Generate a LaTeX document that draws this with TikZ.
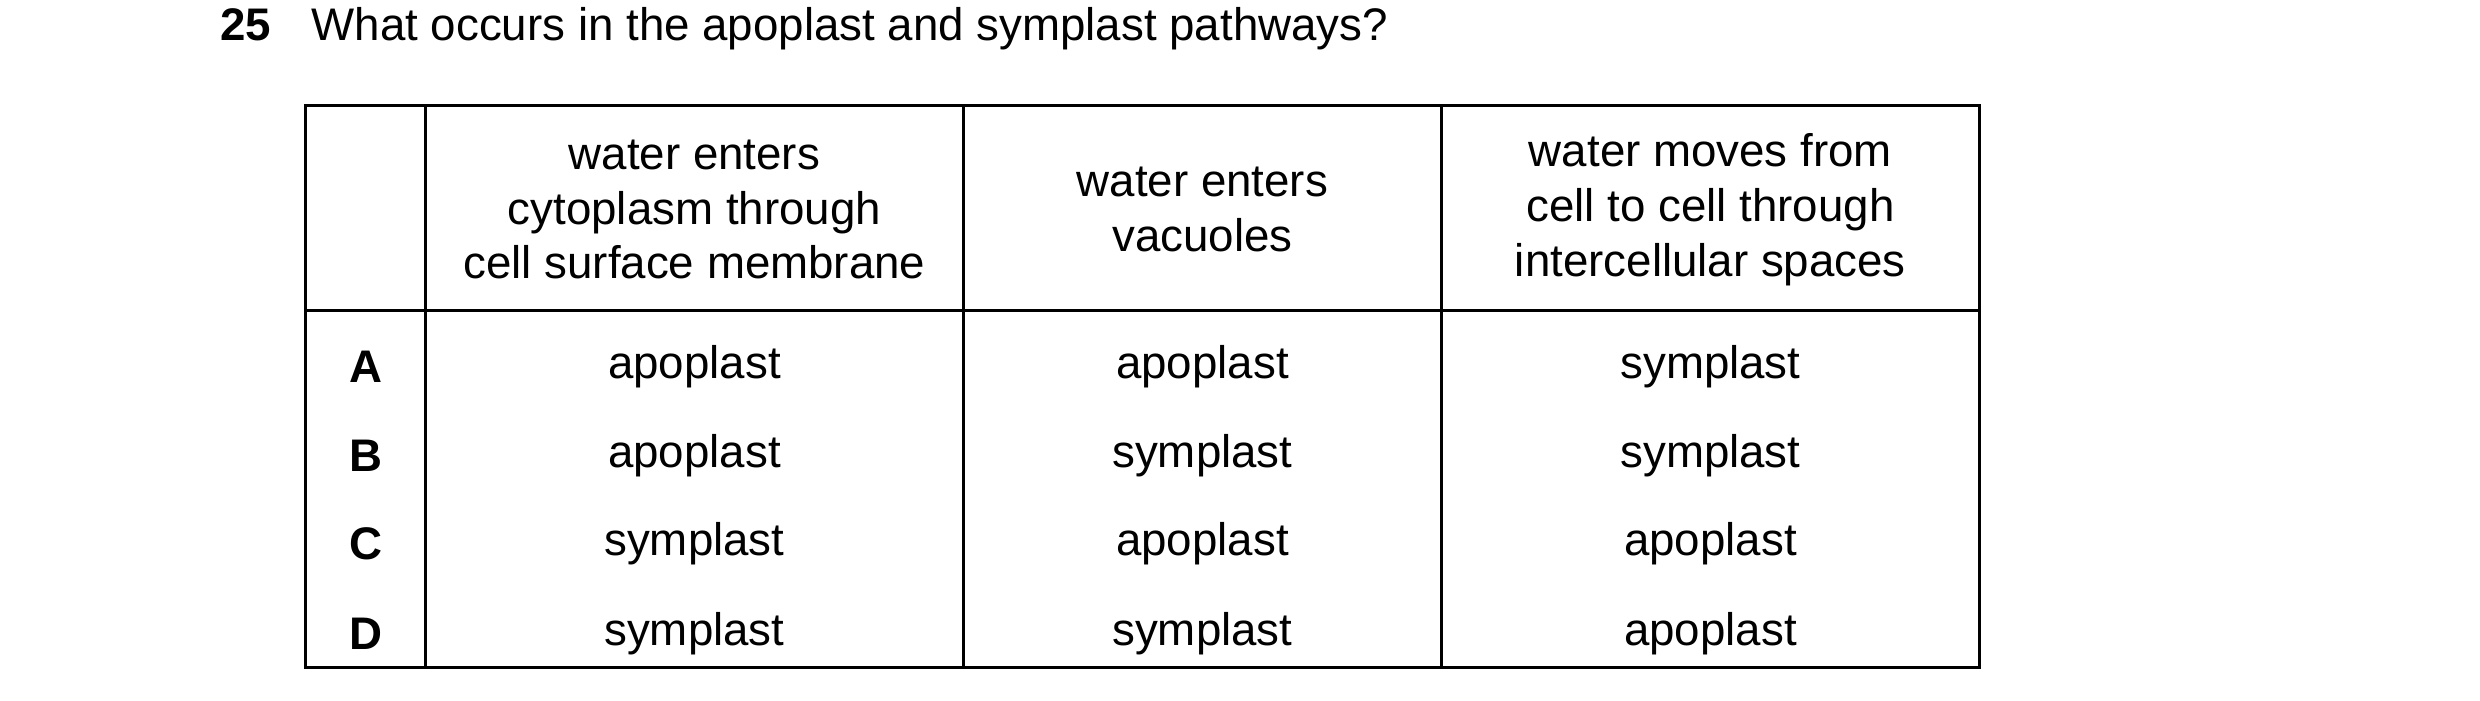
\documentclass[tikz,border=0pt]{standalone}
\usepackage{fontspec}
\setmainfont{Liberation Sans}
\begin{document}
\begin{tikzpicture}[x=0.016cm,y=-0.016cm,font=\fontsize{13}{15.6}\selectfont]
	\tikzset{cell/.style={align=center,inner sep=0pt},
		key/.style={font=\fontsize{13}{15.6}\selectfont\bfseries}}
	\useasboundingbox (0,0) rectangle (1550,437.5);
	% question
	\node[key,anchor=base west] (num) at (130,25) {25};
	\node[anchor=base west] (q) at (187,25) {What occurs in the apoplast and symplast pathways?};
	% table grid
	\draw[line width=0.8pt] (191,66) rectangle (1237,417);
	\draw[line width=0.8pt] (191,194) -- (1237,194);
	\foreach \x in {266,602,901} {
		\draw[line width=0.8pt] (\x,66) -- (\x,417);
	}
	% header
	\node[cell] (h1) at (434,131) {water enters\\cytoplasm through\\cell surface membrane};
	\node[cell] (h2) at (751.5,131) {water enters\\vacuoles};
	\node[cell] (h3) at (1069,131) {water moves from\\cell to cell through\\intercellular spaces};
	% rows
	\foreach \k/\a/\b/\c/\y in {A/apoplast/apoplast/symplast/229,B/apoplast/symplast/symplast/285,C/symplast/apoplast/apoplast/340,D/symplast/symplast/apoplast/396} {
		\node[key] (k\k) at (228.5,\y) {\k};
		\node (a\k) at (434,\y) {\a};
		\node (b\k) at (751.5,\y) {\b};
		\node (c\k) at (1069,\y) {\c};
	}
\end{tikzpicture}
\end{document}
